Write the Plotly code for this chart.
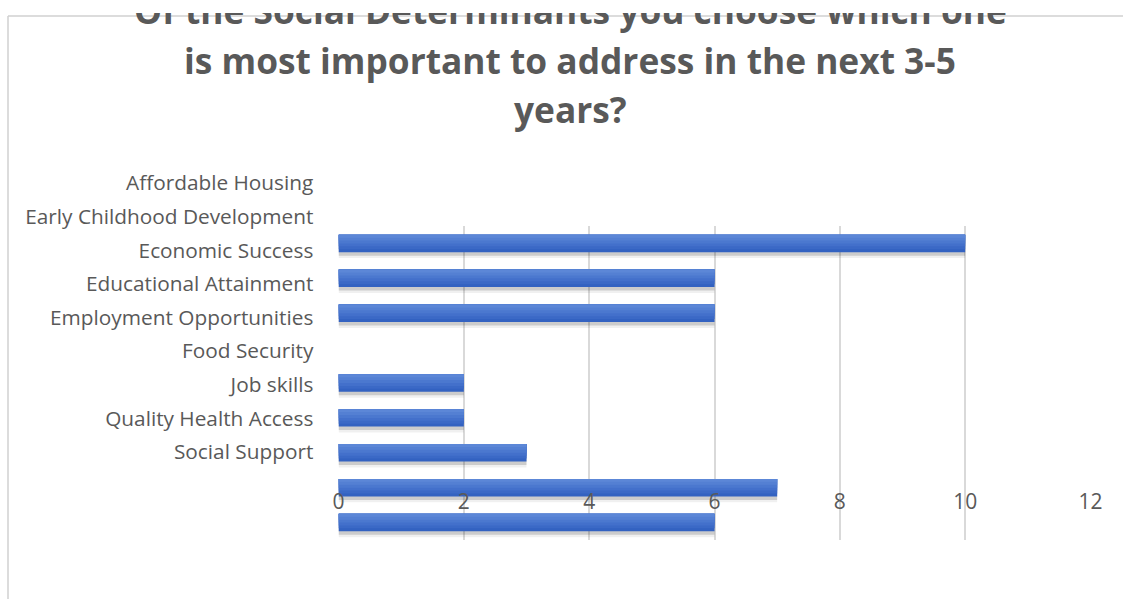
import plotly.graph_objects as go

W, H = 1123, 599

# Category labels listed down the left side
categories = [
    "Affordable Housing",
    "Early Childhood Development",
    "Economic Success",
    "Educational Attainment",
    "Employment Opportunities",
    "Food Security",
    "Job skills",
    "Quality Health Access",
    "Social Support",
]

# Bar lengths, top to bottom
values = [10, 6, 6, 0, 2, 2, 3, 7, 6]

x_ticks = [0, 2, 4, 6, 8, 10, 12]

title_lines = [
    "Of the Social Determinants you choose which one",
    "is most important to address in the next 3-5",
    "years?",
]

TEXT = "#595959"
GRID = "#d9d9d9"
FONT = "Open Sans"


def px_x(p):
    return p / W


def px_y(p):
    return 1 - p / H


rows = list(range(len(values)))

fig = go.Figure()

# soft drop shadow under each bar
fig.add_trace(go.Bar(
    x=values, y=rows, orientation="h", width=0.64, offset=-0.22,
    marker=dict(color="rgba(0,0,0,0.06)", line=dict(width=0)),
    hoverinfo="skip", showlegend=False,
))
fig.add_trace(go.Bar(
    x=values, y=rows, orientation="h", width=0.52, offset=-0.17,
    marker=dict(color="rgba(0,0,0,0.15)", line=dict(width=0)),
    hoverinfo="skip", showlegend=False,
))

# bar body: darkest full bar first, then lighter bands laid over the top part
shades = ["#3362c1", "#3b69c6", "#4370cb", "#4b78cf", "#5480d3", "#5c87d7"]
n = len(shades)
band = 0.5 / n
for i, col in enumerate(shades):
    fig.add_trace(go.Bar(
        x=values, y=rows, orientation="h",
        width=(n - i) * band, offset=-0.25,
        marker=dict(color=col, line=dict(width=0)),
        hoverinfo="skip" if i else None,
        showlegend=False,
    ))

# invisible points that carry the category labels
fig.add_trace(go.Scatter(
    x=[0] * len(categories), y=categories, xaxis="x2", yaxis="y2",
    mode="markers", marker=dict(size=1, color="rgba(0,0,0,0)"),
    hoverinfo="skip", showlegend=False,
))

annotations = []
title_mid = [9.5, 59.5, 109.5]
for line, ym in zip(title_lines, title_mid):
    annotations.append(dict(
        text=f"<b>{line}</b>", showarrow=False,
        xref="paper", yref="paper", x=px_x(570), y=px_y(ym),
        xanchor="center", yanchor="middle",
        font=dict(family=FONT, size=35.3, color=TEXT),
    ))
# white strip across the very top edge
annotations.append(dict(
    text=".", showarrow=False, xref="paper", yref="paper",
    x=px_x(570), y=1, xanchor="center", yanchor="top",
    width=1000, height=13, bgcolor="white", borderpad=0, borderwidth=0,
    font=dict(size=8, color="white"),
))

fig.update_layout(
    width=W, height=H,
    margin=dict(l=0, r=0, t=0, b=0, autoexpand=False),
    paper_bgcolor="white", plot_bgcolor="rgba(0,0,0,0)",
    barmode="overlay",
    showlegend=False,
    font=dict(family=FONT, color=TEXT),
    xaxis=dict(
        domain=[px_x(338.5), px_x(1090.5)], range=[0, 12],
        tickvals=x_ticks, showgrid=True, gridcolor=GRID, gridwidth=1.5,
        zeroline=False, showline=False, ticks="",
        anchor="free", position=px_y(487),
        tickfont=dict(family=FONT, size=21, color=TEXT),
    ),
    yaxis=dict(
        domain=[px_y(540), px_y(226)], range=[len(values) - 0.5, -0.5],
        showticklabels=False, showgrid=False, zeroline=False,
        anchor="x",
    ),
    xaxis2=dict(
        domain=[px_x(338.5), px_x(1090.5)], range=[0, 12],
        visible=False, anchor="y2",
    ),
    yaxis2=dict(
        domain=[px_y(468.8), px_y(166.2)], anchor="x2",
        type="category", categoryorder="array", categoryarray=categories,
        range=[len(categories) - 0.5, -0.5],
        showgrid=False, zeroline=False, showline=False,
        ticks="outside", ticklen=20, tickcolor="rgba(0,0,0,0)",
        tickfont=dict(family=FONT, size=20.8, color=TEXT),
    ),
    annotations=annotations,
    shapes=[
        dict(type="line", xref="paper", yref="paper",
             x0=px_x(8), x1=px_x(8), y0=px_y(16), y1=-0.05,
             line=dict(color="#d0d0d0", width=1.5)),
        dict(type="line", xref="paper", yref="paper",
             x0=px_x(8), x1=1.05, y0=px_y(16), y1=px_y(16),
             line=dict(color="#d0d0d0", width=1.5)),
    ],
)

fig.write_html("out.html")
